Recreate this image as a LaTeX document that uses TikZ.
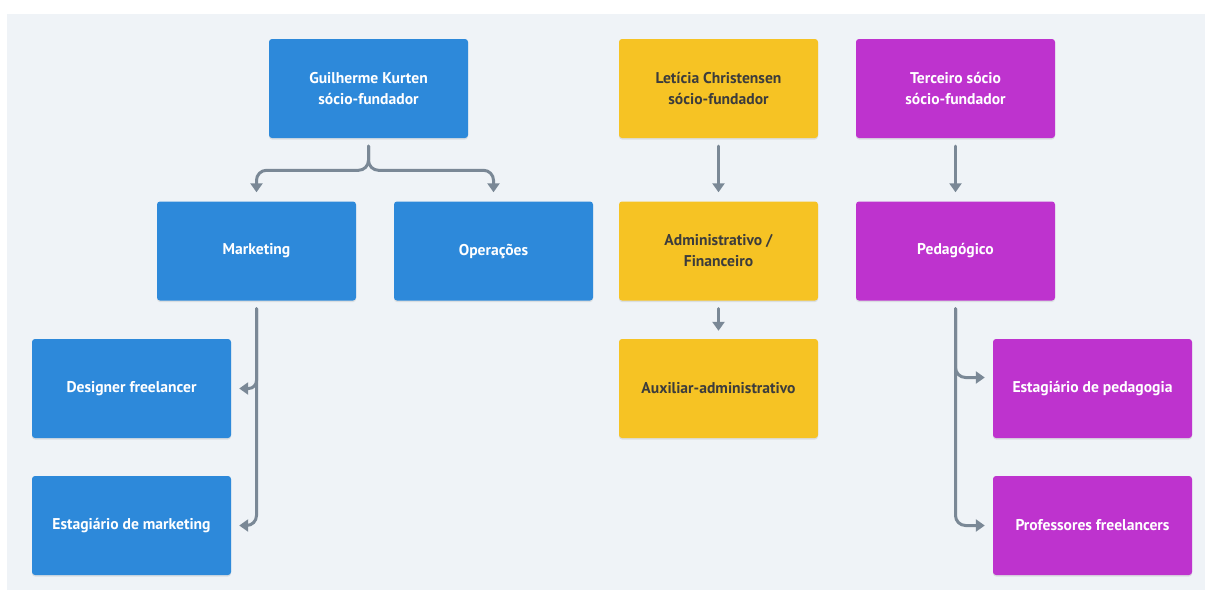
\documentclass[tikz,border=0pt]{standalone}
\usepackage{fontspec}
\setmainfont{PT Sans}
\usetikzlibrary{arrows.meta,calc,shadows}
\definecolor{canvas}{HTML}{EFF3F7}
\definecolor{wire}{HTML}{7A8896}
\definecolor{hueBlue}{HTML}{2D89DA}
\definecolor{hueGold}{HTML}{F6C324}
\definecolor{huePlum}{HTML}{BE33CE}
\definecolor{inkDark}{HTML}{3C3C3C}
\tikzset{
  every node/.style={font=\fontsize{15.6}{21}\selectfont\bfseries,inner sep=0pt},
  card/.style={rounded corners=3pt,minimum width=199pt,minimum height=99pt,
               align=center,text=white,
               drop shadow={shadow xshift=0pt,shadow yshift=-1.5pt,opacity=.18}},
  blue/.style={card,fill=hueBlue},
  gold/.style={card,fill=hueGold,text=inkDark},
  plum/.style={card,fill=huePlum},
  link/.style={-{Triangle[length=9pt,width=12pt]},draw=wire,line width=3pt,
               line cap=round},
}

\begin{document}
\begin{tikzpicture}[x=1pt,y=-1pt]           % pixel grid, y runs down
\path[use as bounding box] (0,0) rectangle (1205,590);
\fill[canvas] (7,14) rectangle (1205,590);

% Column one: first founder and his two areas
\node[blue] (gk) at (368.5,88.5) {Guilherme Kurten\\sócio-fundador};
\node[blue] (mk) at (256.5,251) {Marketing};
\node[blue] (op) at (493.5,251) {Operações};
\node[blue] (dz) at (131.5,388.5) {Designer freelancer};
\node[blue] (em) at (131.5,525.5) {Estagiário de marketing};

% Column two: second founder
\node[gold] (lc) at (718.5,88.5) {Letícia Christensen\\sócio-fundador};
\node[gold] (ad) at (718.5,251) {Administrativo /\\Financeiro};
\node[gold] (ax) at (718.5,388.5) {Auxiliar-administrativo};

% Column three: third founder
\node[plum] (ts) at (955.5,88.5) {Terceiro sócio\\sócio-fundador};
\node[plum] (pd) at (955.5,251) {Pedagógico};
\node[plum] (ep) at (1092.5,388.5) {Estagiário de pedagogia};
\node[plum] (pf) at (1092.5,525.5) {Professores freelancers};

% The split under the first founder reads as a brace.
\draw[link,rounded corners=10pt] ($(gk.south)+(0,8)$) |- ($(mk.north)+(0,-31)$)
      -- ($(mk.north)+(0,-9)$);
\draw[link,rounded corners=10pt] ($(gk.south)+(0,8)$) |- ($(op.north)+(0,-31)$)
      -- ($(op.north)+(0,-9)$);

\draw[link] ($(lc.south)+(0,8)$) -- ($(ad.north)+(0,-9)$);
\draw[link] ($(ad.south)+(0,8)$) -- ($(ax.north)+(0,-8)$);
\draw[link] ($(ts.south)+(0,8)$) -- ($(pd.north)+(0,-9)$);

% Side rails: one trunk, a branch for each child
\draw[link,rounded corners=8pt] ($(mk.south)+(0,8)$) |- ($(dz.east)+(8,0)$);
\draw[link,rounded corners=10pt] ($(mk.south)+(0,8)$) |- ($(em.east)+(8,0)$);
\draw[link,rounded corners=10pt] ($(pd.south)+(0,8)$) |- ($(ep.west)+(-8,-11)$);
\draw[link,rounded corners=10pt] ($(pd.south)+(0,8)$) |- ($(pf.west)+(-8,0)$);

\end{tikzpicture}
\end{document}
